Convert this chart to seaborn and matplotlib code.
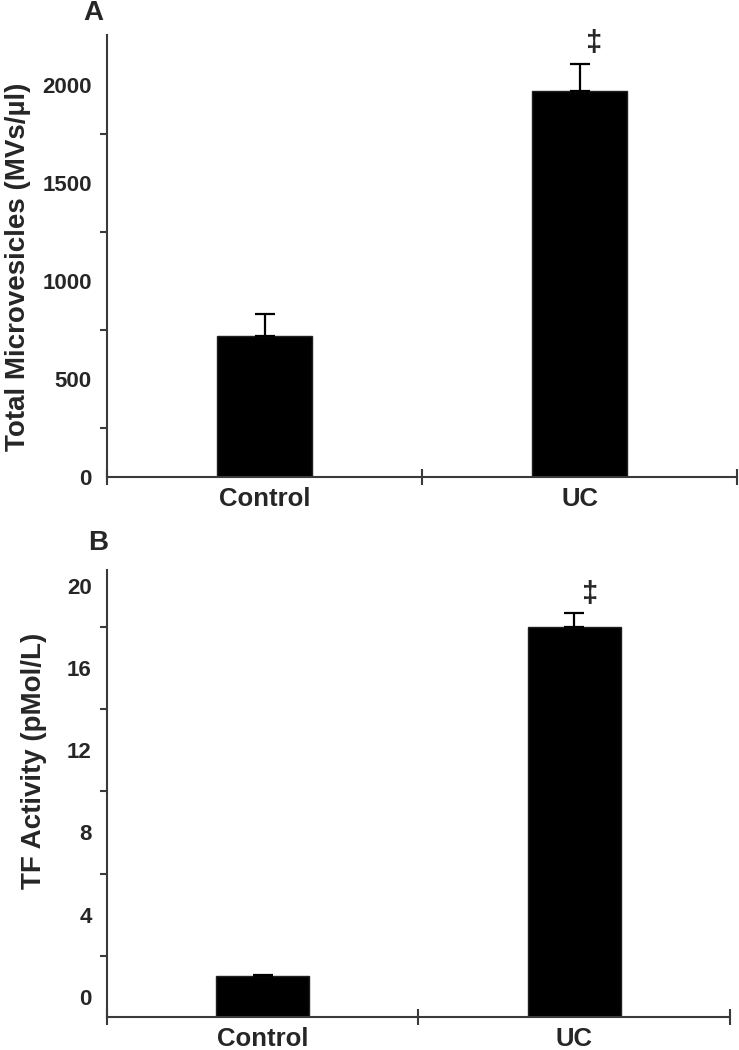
import pandas as pd
import seaborn as sns
import matplotlib.pyplot as plt
from matplotlib.ticker import FixedLocator

# Data
groups = ['Control', 'UC']
mv_mean = [720, 1970]
mv_err = [110, 135]
tf_mean = [1.0, 18.0]
tf_err = [0.05, 0.7]

sns.set_style('white')
plt.rcParams['font.family'] = ['Liberation Sans', 'DejaVu Sans']
plt.rcParams['font.weight'] = 'bold'

fig = plt.figure(figsize=(7.39, 10.5), dpi=100)
ax1 = fig.add_axes([0.1448, 0.5457, 0.8525, 0.421])
ax2 = fig.add_axes([0.1448, 0.0314, 0.843, 0.4257])

axis_col = '#3a3a3a'


def draw_panel(ax, means, errs, ylim, major, minor, ylabel, bottom, label_xy):
    df = pd.DataFrame({'group': groups, 'value': means})
    sns.barplot(data=df, x='group', y='value', ax=ax, color='black',
                width=0.3, errorbar=None, saturation=1)
    # bars start from the x-axis line
    for p in ax.patches:
        h = p.get_height()
        p.set_y(bottom)
        p.set_height(h - bottom)
        p.set_edgecolor('#202020')
    ax.errorbar(range(len(groups)), means, yerr=[[0] * len(errs), errs],
                fmt='none', ecolor='black', elinewidth=1.6, capsize=7,
                capthick=1.6)
    ax.set_xlim(-0.5, 1.5)
    ax.set_ylim(*ylim)
    ax.set_yticks(major)
    ax.yaxis.set_minor_locator(FixedLocator(minor))
    ax.xaxis.set_minor_locator(FixedLocator([-0.5, 0.5, 1.5]))
    ax.tick_params(axis='y', which='major', length=8, width=1.5, color=axis_col,
                   labelsize=16, pad=3, direction='out')
    ax.tick_params(axis='y', which='minor', length=5, width=1.5, color=axis_col,
                   direction='out', left=True)
    ax.tick_params(axis='x', which='major', length=0, labelsize=18.5, pad=7)
    ax.tick_params(axis='x', which='minor', length=12, width=1.5, color=axis_col,
                   direction='inout', bottom=True)
    for lab in ax.get_yticklabels() + ax.get_xticklabels():
        lab.set_fontweight('bold')
    ax.set_xlabel('')
    ax.set_ylabel(ylabel, fontsize=20, fontweight='bold')
    ax.yaxis.set_label_coords(*label_xy)
    for s in ['top', 'right']:
        ax.spines[s].set_visible(False)
    for s in ['left', 'bottom']:
        ax.spines[s].set_color(axis_col)
        ax.spines[s].set_linewidth(1.5)


draw_panel(ax1, mv_mean, mv_err, (0, 2255), [0, 500, 1000, 1500, 2000],
           [250, 750, 1250, 1750], 'Total Microvesicles (MVs/µl)', 0,
           (-0.12, 0.475))
draw_panel(ax2, tf_mean, tf_err, (-1, 20.8), [0, 4, 8, 12, 16, 20],
           [2, 6, 10, 14, 18], 'TF Activity (pMol/L)', -1,
           (-0.097, 0.573))

# significance markers
ax1.text(1.045, 2215, '‡', ha='center', va='center', fontsize=21)
ax2.text(1.05, 19.65, '‡', ha='center', va='center', fontsize=21)

# panel letters
fig.text(93 / 739, 1 - 13 / 1050, 'A', ha='center', va='center', fontsize=20,
         fontweight='bold')
fig.text(98 / 739, 1 - 543 / 1050, 'B', ha='center', va='center', fontsize=20,
         fontweight='bold')

fig.savefig('out.png', dpi=100)
